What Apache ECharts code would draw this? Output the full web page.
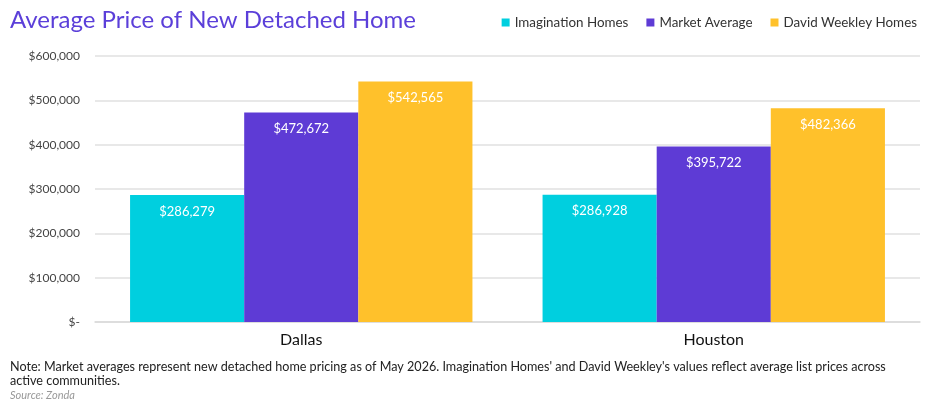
<!DOCTYPE html>
<html><head><meta charset="utf-8">
<script src="https://cdn.jsdelivr.net/npm/echarts@6/dist/echarts.min.js"></script>
<style>html,body{margin:0;padding:0;background:#fff}#c{width:936px;height:405px}</style>
</head><body><div id="c"></div>
<script>
const categories = ['Dallas', 'Houston'];
const imaginationHomes = [286279, 286928];
const marketAverage = [472672, 395722];
const davidWeekley = [542565, 482366];
const yTicks = [0, 100000, 200000, 300000, 400000, 500000, 600000];

const FONT = 'Lato, "Noto Sans", sans-serif';
const fmt = v => v === 0 ? '$-' : '$' + v.toLocaleString('en-US');
const label = {show: true, position: 'insideTop', distance: 10, color: '#fff', fontSize: 13, fontFamily: FONT, formatter: p => fmt(p.value)};

const chart = echarts.init(document.getElementById('c'));
chart.setOption({
  animation: false,
  title: {text: 'Average Price of New Detached Home', left: 5, top: 3,
    textStyle: {color: '#5B3FD9', fontSize: 24, fontWeight: 'normal', fontFamily: FONT}},
  legend: {right: 14, top: 11, itemWidth: 8, itemHeight: 8, itemGap: 18, icon: 'rect',
    textStyle: {color: '#333', fontSize: 13.4, fontFamily: FONT}},
  grid: {left: 95, right: 16, top: 56, bottom: 83},
  xAxis: {type: 'category', data: categories,
    axisLine: {lineStyle: {color: '#d9d9d9', width: 1.5}}, axisTick: {show: false},
    axisLabel: {color: '#111', fontSize: 16, margin: 10, fontFamily: FONT}},
  yAxis: {type: 'value', min: 0, max: 600000, interval: 100000,
    axisLine: {show: false}, axisTick: {show: false},
    splitLine: {lineStyle: {color: '#e0e0e0', width: 1.5}},
    axisLabel: {color: '#444', fontSize: 12, margin: 15, fontFamily: FONT, formatter: fmt}},
  series: [
    {name: 'Imagination Homes', type: 'bar', data: imaginationHomes, itemStyle: {color: '#00CFDF'}, barGap: '0%', barCategoryGap: '17%', label},
    {name: 'Market Average', type: 'bar', data: marketAverage, itemStyle: {color: '#5E3BD5'}, label},
    {name: 'David Weekley Homes', type: 'bar', data: davidWeekley, itemStyle: {color: '#FFC12B'}, label}
  ],
  graphic: [
    {type: 'text', left: 10, top: 360, style: {text: "Note: Market averages represent new detached home pricing as of May 2026. Imagination Homes' and David Weekley's values reflect average list prices across\nactive communities.", fill: '#222', font: '12.6px ' + FONT, lineHeight: 14}},
    {type: 'text', left: 10, top: 390, style: {text: 'Source: Zonda', fill: '#999', font: 'italic 11px ' + FONT}}
  ]
});
</script></body></html>
